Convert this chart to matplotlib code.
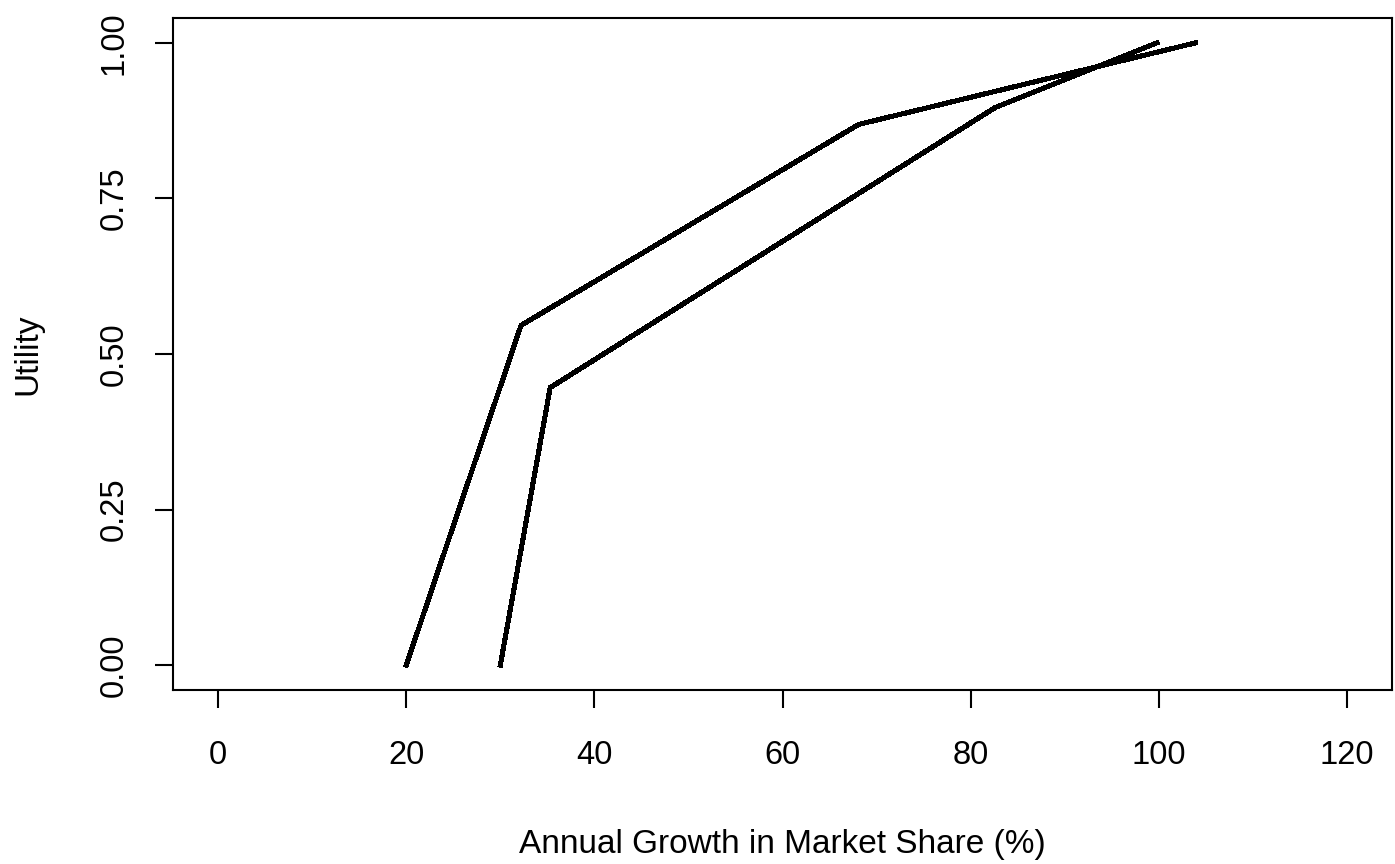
import matplotlib
matplotlib.use("Agg")
import matplotlib.pyplot as plt

# Utility curves (two decision makers)
growth_a = [20, 32.2, 68.1, 103.9]
utility_a = [0.0, 0.546, 0.869, 1.0]

growth_b = [30, 35.3, 82.6, 99.8]
utility_b = [0.0, 0.446, 0.896, 1.0]

x_ticks = [0, 20, 40, 60, 80, 100, 120]
y_ticks = [0.0, 0.25, 0.5, 0.75, 1.0]
y_labels = ["0.00", "0.25", "0.50", "0.75", "1.00"]

plt.rcParams['font.family'] = ['Liberation Sans', 'DejaVu Sans']

fig = plt.figure(figsize=(13.95, 8.64), dpi=100)
ax = fig.add_axes([173 / 1395, 1 - 690 / 864, (1392 - 173) / 1395, (690 - 18) / 864])

ax.plot(growth_a, utility_a, color='black', lw=2.9, antialiased=False)
ax.plot(growth_b, utility_b, color='black', lw=2.9, antialiased=False)

ax.set_xlim(-4.8, 124.8)
ax.set_ylim(-0.04, 1.04)
ax.set_xticks(x_ticks)
ax.set_yticks(y_ticks)
ax.set_yticklabels(y_labels, rotation=90, va='center')

for s in ax.spines.values():
    s.set_linewidth(1.5)
ax.tick_params(direction='out', length=13, width=1.5, labelsize=23.5, colors='black')
ax.tick_params(axis='x', pad=23)
ax.tick_params(axis='y', pad=18)

ax.set_xlabel('Annual Growth in Market Share (%)', fontsize=24, labelpad=42)
ax.set_ylabel('Utility', fontsize=24, labelpad=40)

fig.savefig('out.png', dpi=100)
